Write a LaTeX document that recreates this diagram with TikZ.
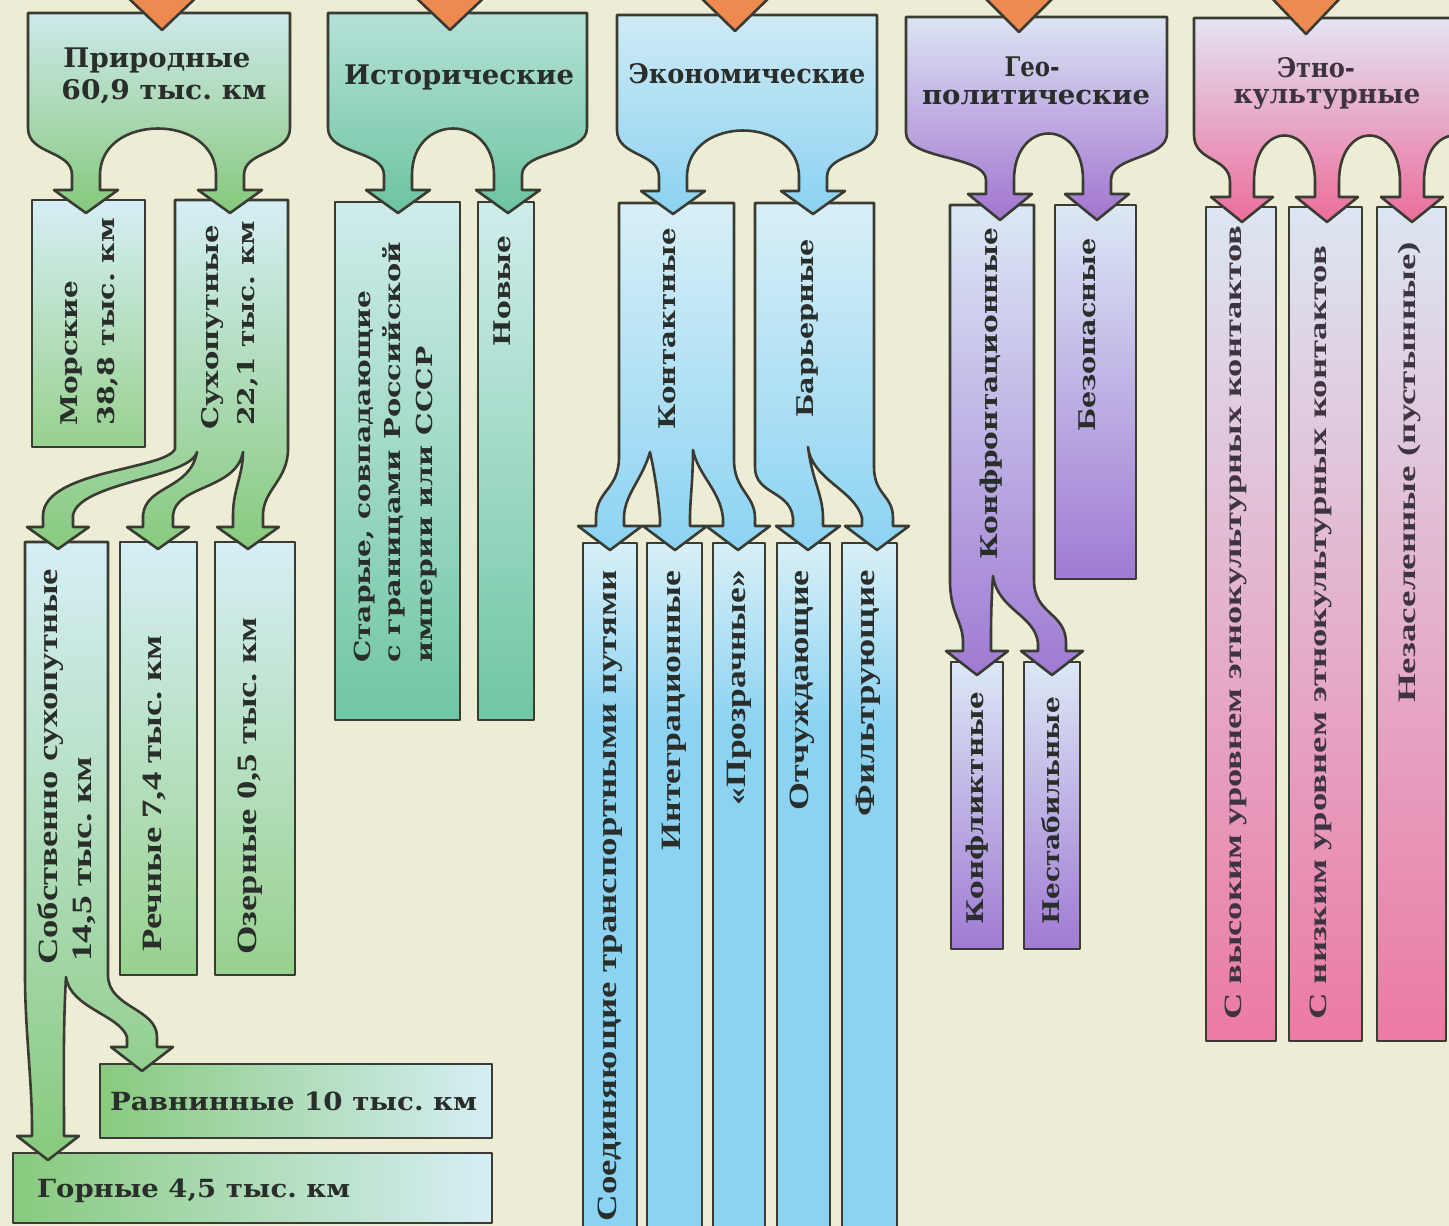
\documentclass[tikz,border=0pt]{standalone}
\usepackage{fontspec}
\usepackage{graphicx}
\setmainfont{DejaVu Serif}
\newfontfamily\tnr{Liberation Serif}
\frenchspacing
\definecolor{bgc}{HTML}{EDECD4}
\definecolor{edgec}{HTML}{3A3C34}
\definecolor{txtc}{HTML}{2A2E2B}
\definecolor{ethtxt}{HTML}{3E3440}
\definecolor{orc}{HTML}{EE8A50}
\definecolor{pT}{HTML}{CDE8EA}
\definecolor{pB}{HTML}{86C97C}
\definecolor{gLt}{HTML}{D6EEF5}
\definecolor{gDk}{HTML}{88CA7E}
\definecolor{gMd}{HTML}{98D18E}
\definecolor{hT}{HTML}{B5E1D8}
\definecolor{hB}{HTML}{6CC4A0}
\definecolor{hcT}{HTML}{CFECEA}
\definecolor{hcB}{HTML}{70C6A3}
\definecolor{eT}{HTML}{CFEAF5}
\definecolor{eB}{HTML}{8AD2F1}
\definecolor{ecT}{HTML}{D8EFF7}
\definecolor{ecB}{HTML}{8CD3F2}
\definecolor{poT}{HTML}{DCE4F3}
\definecolor{poB}{HTML}{A274D0}
\definecolor{pcT}{HTML}{DCE8F5}
\definecolor{pcB}{HTML}{A07AD3}
\definecolor{etT}{HTML}{E3E4F2}
\definecolor{etB}{HTML}{EC6D9C}
\definecolor{enT}{HTML}{DCE6F2}
\definecolor{enM}{HTML}{E5B3D2}
\definecolor{enB}{HTML}{EC7AA4}
\pgfdeclareverticalshading{econlow}{100bp}{color(0bp)=(ecB); color(25bp)=(ecB); color(62bp)=(ecB); color(75bp)=(ecT); color(100bp)=(ecT)}
\newcommand{\fitw}[2]{\resizebox{#1pt}{\height}{#2}}
\begin{document}
\begin{tikzpicture}[x=1pt,y=-1pt,
  shp/.style={draw=edgec,line width=2.6pt,line join=round},
  orng/.style={shp,fill=orc},
  tl/.style={inner sep=0pt,text=txtc,font=\bfseries\fontsize{27}{30}\selectfont},
  vd/.style={rotate=90,inner sep=0pt,text=txtc,font=\bfseries\fontsize{23}{26}\selectfont},
  vds/.style={rotate=90,inner sep=0pt,text=txtc,font=\bfseries\fontsize{22}{24}\selectfont},
  vt/.style={rotate=90,inner sep=0pt,text=txtc,font=\tnr\bfseries\fontsize{28}{32}\selectfont},
  ve/.style={rotate=90,inner sep=0pt,text=ethtxt,font=\tnr\bfseries\fontsize{25}{30}\selectfont},
  hd/.style={inner sep=0pt,text=txtc,font=\bfseries\fontsize{25}{28}\selectfont}]
\useasboundingbox (0,0) rectangle (1449,1226);
\fill[bgc] (0,0) rectangle (1449,1226);
\begin{scope}
\clip (0,0) rectangle (1449,1226);
% ---------- Природные ----------
\path[shp,left color=gDk,right color=gLt] (100,1064) rectangle (492,1138);
\path[shp,left color=gDk,right color=gLt] (13,1153) rectangle (492,1223);
\path[shp,top color=gLt,bottom color=gDk] (25,542) -- (108,542) -- (108,975)
  .. controls (108,1008) and (157,1008) .. (157,1037) -- (157,1047) -- (173,1047) -- (142,1071) -- (111,1047) -- (127,1047) -- (127,1037)
  .. controls (120,1015) and (70,1008) .. (66,977)
  .. controls (63,1030) and (64,1080) .. (64,1128) -- (64,1136) -- (79,1136) -- (48,1160) -- (17,1136) -- (32,1136) -- (32,1128)
  .. controls (32,1080) and (25,1030) .. (25,975) -- cycle;
\path[shp,top color=gLt,bottom color=gMd] (120,542) rectangle (197,975);
\path[shp,top color=gLt,bottom color=gMd] (215,542) rectangle (295,975);
\path[shp,top color=gLt,bottom color=gMd] (32,200) rectangle (145,447);
\path[shp,top color=gLt,bottom color=gDk] (175,200) -- (288,200) -- (288,449)
  .. controls (288,480) and (263,490) .. (263,515) -- (263,527) -- (279,527) -- (248,549) -- (217,527) -- (233,527) -- (233,515)
  .. controls (233,490) and (243,475) .. (243,452)
  .. controls (236,490) and (176,485) .. (173,515) -- (173,527) -- (189,527) -- (158,549) -- (127,527) -- (143,527) -- (143,515)
  .. controls (146,485) and (190,490) .. (197,452)
  .. controls (190,478) and (80,482) .. (73,515) -- (73,527) -- (89,527) -- (58,549) -- (27,527) -- (43,527) -- (43,515)
  .. controls (45,470) and (165,470) .. (175,449) -- cycle;
\path[shp,top color=pT,bottom color=pB] (28,13) -- (290,13) -- (290,128)
  .. controls (290,155) and (244,150) .. (244,175) -- (244,190) -- (262,190) -- (230,213) -- (198,190) -- (216,190) -- (216,175)
  .. controls (216,113) and (100,113) .. (100,175) -- (100,190) -- (118,190) -- (86,213) -- (54,190) -- (72,190) -- (72,175)
  .. controls (72,150) and (28,155) .. (28,128) -- cycle;
% ---------- Исторические ----------
\path[shp,top color=hcT,bottom color=hcB] (335,202) rectangle (460,720);
\path[shp,top color=hcT,bottom color=hcB] (478,202) rectangle (534,720);
\path[shp,top color=hT,bottom color=hB] (328,13) -- (587,13) -- (587,128)
  .. controls (587,155) and (522,150) .. (522,175) -- (522,190) -- (540,190) -- (508,213) -- (476,190) -- (494,190) -- (494,175)
  .. controls (494,113) and (412,113) .. (412,175) -- (412,190) -- (430,190) -- (398,213) -- (366,190) -- (384,190) -- (384,175)
  .. controls (384,150) and (328,155) .. (328,128) -- cycle;
% ---------- Экономические ----------
\path[shp,shading=econlow] (583,543) rectangle (637,1240);
\path[shp,shading=econlow] (647,543) rectangle (702,1240);
\path[shp,shading=econlow] (713,543) rectangle (765,1240);
\path[shp,shading=econlow] (777,543) rectangle (830,1240);
\path[shp,shading=econlow] (842,543) rectangle (897,1240);
\path[shp,top color=ecT,bottom color=ecB] (619,203) -- (734,203) -- (734,460)
  .. controls (734,490) and (755,495) .. (755,518) -- (755,526) -- (770,526) -- (738,550) -- (706,526) -- (723,526) -- (723,518)
  .. controls (720,490) and (698,475) .. (693,450)
  .. controls (693,480) and (690,500) .. (690,518) -- (690,526) -- (707,526) -- (675,550) -- (643,526) -- (660,526) -- (660,518)
  .. controls (658,495) and (655,475) .. (650,452)
  .. controls (642,480) and (624,495) .. (624,518) -- (624,526) -- (642,526) -- (610,550) -- (578,526) -- (596,526) -- (596,518)
  .. controls (596,490) and (619,490) .. (619,457) -- cycle;
\path[shp,top color=ecT,bottom color=ecB] (755,203) -- (874,203) -- (874,467)
  .. controls (874,495) and (893,495) .. (893,518) -- (893,526) -- (909,526) -- (877,550) -- (845,526) -- (862,526) -- (862,518)
  .. controls (855,490) and (812,480) .. (808,447)
  .. controls (812,480) and (823,495) .. (823,518) -- (823,526) -- (840,526) -- (808,550) -- (776,526) -- (793,526) -- (793,518)
  .. controls (790,490) and (755,495) .. (755,467) -- cycle;
\path[shp,top color=eT,bottom color=eB] (617,15) -- (877,15) -- (877,130)
  .. controls (877,157) and (827,152) .. (827,177) -- (827,191) -- (845,191) -- (813,214) -- (781,191) -- (799,191) -- (799,177)
  .. controls (799,115) and (687,115) .. (687,177) -- (687,191) -- (705,191) -- (673,214) -- (641,191) -- (659,191) -- (659,177)
  .. controls (659,152) and (617,157) .. (617,130) -- cycle;
% ---------- Геополитические ----------
\path[shp,top color=pcT,bottom color=pcB] (951,662) rectangle (1003,949);
\path[shp,top color=pcT,bottom color=pcB] (1024,662) rectangle (1080,949);
\path[shp,top color=pcT,bottom color=pcB] (950,205) -- (1034,205) -- (1034,580)
  .. controls (1034,615) and (1066,612) .. (1066,643) -- (1066,651) -- (1083,651) -- (1052,675) -- (1021,651) -- (1038,651) -- (1038,643)
  .. controls (1035,615) and (998,610) .. (993,576)
  .. controls (991,605) and (991,625) .. (991,643) -- (991,651) -- (1008,651) -- (977,675) -- (946,651) -- (963,651) -- (963,643)
  .. controls (963,620) and (950,615) .. (950,580) -- cycle;
\path[shp,top color=pcT,bottom color=pcB] (1055,205) rectangle (1136,579);
\path[shp,top color=poT,bottom color=poB] (906,17) -- (1167,17) -- (1167,133)
  .. controls (1167,160) and (1111,155) .. (1111,180) -- (1111,194) -- (1129,194) -- (1097,220) -- (1065,194) -- (1083,194) -- (1083,180)
  .. controls (1083,118) and (1014,118) .. (1014,180) -- (1014,194) -- (1032,194) -- (1000,220) -- (968,194) -- (986,194) -- (986,180)
  .. controls (986,155) and (906,160) .. (906,133) -- cycle;
% ---------- Этнокультурные ----------
\path[shp,top color=enT,middle color=enM,bottom color=enB] (1206,207) rectangle (1276,1041);
\path[shp,top color=enT,middle color=enM,bottom color=enB] (1289,207) rectangle (1362,1041);
\path[shp,top color=enT,middle color=enM,bottom color=enB] (1377,207) rectangle (1446,1041);
\path[shp,top color=etT,bottom color=etB] (1194,18) -- (1600,18) -- (1600,135) -- (1560,135)
  .. controls (1515,155) and (1509,155) .. (1509,182) -- (1509,197) -- (1528,197) -- (1497,222) -- (1466,197) -- (1485,197) -- (1485,182)
  .. controls (1485,120) and (1424,120) .. (1424,182) -- (1424,197) -- (1443,197) -- (1412,222) -- (1381,197) -- (1400,197) -- (1400,182)
  .. controls (1400,120) and (1339,120) .. (1339,182) -- (1339,197) -- (1358,197) -- (1327,222) -- (1296,197) -- (1315,197) -- (1315,182)
  .. controls (1315,120) and (1254,120) .. (1254,182) -- (1254,197) -- (1273,197) -- (1242,222) -- (1211,197) -- (1230,197) -- (1230,182)
  .. controls (1230,157) and (1194,162) .. (1194,135) -- cycle;
% ---------- orange arrows ----------
\path[orng] (122,-8) -- (202,-8) -- (162,30) -- cycle;
\path[orng] (410,-8) -- (490,-8) -- (450,30) -- cycle;
\path[orng] (695,-8) -- (775,-8) -- (735,31) -- cycle;
\path[orng] (979,-8) -- (1059,-8) -- (1019,32) -- cycle;
\path[orng] (1266,-8) -- (1346,-8) -- (1306,34) -- cycle;
\end{scope}
% ---------- texts ----------
\node[tl] (tP1) at (157,60) {\fitw{187}{Природные}};
\node[tl] (tP2) at (164,92) {\fitw{205}{60,9 тыс. км}};
\node[tl] (tH) at (459,77) {\fitw{230}{Исторические}};
\node[tl] (tE) at (747,74) {\fitw{237}{Экономические}};
\node[tl] (tG1) at (1032,67) {\fitw{55}{Гео-}};
\node[tl] (tG2) at (1036,97) {\fitw{228}{политические}};
\node[tl,text=ethtxt] (tN1) at (1316,68) {\fitw{78}{Этно-}};
\node[tl,text=ethtxt] (tN2) at (1327,99) {\fitw{187}{культурные}};
\node[vd,anchor=west] (tM1) at (72,426) {\fitw{145}{Морские}};
\node[vd,anchor=west] (tM2) at (108,426) {\fitw{208}{38,8 тыс. км}};
\node[vd,anchor=west] (tS1) at (213,430) {\fitw{205}{Сухопутные}};
\node[vd,anchor=west] (tS2) at (248,426) {\fitw{205}{22,1 тыс. км}};
\node[vds,anchor=west] (tO1) at (365,663) {\fitw{372}{Старые, совпадающие}};
\node[vds,anchor=west] (tO2) at (394,663) {\fitw{421}{с границами Российской}};
\node[vds,anchor=west] (tO3) at (427,663) {\fitw{316}{империи или СССР}};
\node[vd,anchor=east] (tNw) at (502,235) {\fitw{111}{Новые}};
\node[vd,anchor=west] (tK) at (667,430) {\fitw{202}{Контактные}};
\node[vd,anchor=west] (tB) at (807,418) {\fitw{179}{Барьерные}};
\node[vd,anchor=west] (tKf) at (991,560) {\fitw{332}{Конфронтационные}};
\node[vd,anchor=west] (tBz) at (1087,432) {\fitw{194}{Безопасные}};
\node[vd,anchor=west] (tKl) at (977,925) {\fitw{233}{Конфликтные}};
\node[vd,anchor=west] (tNs) at (1051,925) {\fitw{228}{Нестабильные}};
\node[vt,anchor=west] (tC1) at (50,965) {\fitw{396}{Собственно сухопутные}};
\node[vt,anchor=west] (tC2) at (84,962) {\fitw{205}{14,5 тыс. км}};
\node[vt,anchor=west] (tR) at (154,952) {\fitw{316}{Речные 7,4 тыс. км}};
\node[vt,anchor=west] (tZ) at (250,955) {\fitw{337}{Озерные 0,5 тыс. км}};
\node[vt,anchor=east] (tL1) at (610,570) {\fitw{651}{Соединяющие транспортными путями}};
\node[vt,anchor=east] (tL2) at (674,570) {\fitw{280}{Интеграционные}};
\node[vt,anchor=east] (tL3) at (739,570) {\fitw{235}{«Прозрачные»}};
\node[vt,anchor=east] (tL4) at (802,570) {\fitw{240}{Отчуждающие}};
\node[vt,anchor=east] (tL5) at (868,570) {\fitw{246}{Фильтрующие}};
\node[ve,anchor=west] (tEt1) at (1236,1020) {\fitw{794}{С высоким уровнем этнокультурных контактов}};
\node[ve,anchor=west] (tEt2) at (1321,1020) {\fitw{774}{С низким уровнем этнокультурных контактов}};
\node[ve,anchor=west] (tEt3) at (1410,703) {\fitw{461}{Незаселенные (пустынные)}};
\node[hd,anchor=west] (tRv) at (110,1101) {\fitw{367}{Равнинные 10 тыс. км}};
\node[hd,anchor=west] (tGr) at (37,1191) {\fitw{313}{Горные 4,5 тыс. км}};
\end{tikzpicture}
\end{document}
